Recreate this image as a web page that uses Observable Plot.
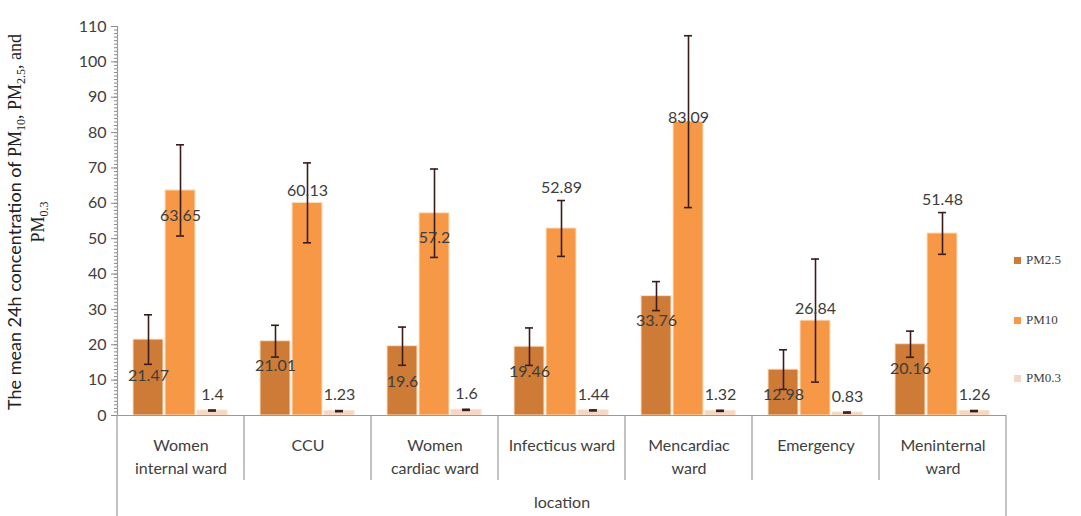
<!DOCTYPE html>
<html><head><meta charset="utf-8">
<script src="https://cdn.jsdelivr.net/npm/d3@7"></script>
<script src="https://cdn.jsdelivr.net/npm/@observablehq/plot@0.6"></script>
<style>
body{margin:0;background:#fff;}
#wrap{position:relative;width:1081px;height:516px;overflow:hidden;}
.lg{position:absolute;left:1014px;font-family:"Liberation Serif",serif;font-size:13px;color:#404040;display:flex;align-items:center;gap:5px;line-height:14px;}
.lg span.sw{display:inline-block;width:7px;height:7px;}
</style></head><body><div id="wrap"></div>
<script>
// ---- data ----
const locations = ["Women internal ward","CCU","Women cardiac ward","Infecticus ward","Mencardiac ward","Emergency","Meninternal ward"];
const locationLabels = ["Women\ninternal ward","CCU","Women\ncardiac ward","Infecticus ward","Mencardiac\nward","Emergency","Meninternal\nward"];
const series = ["PM2.5","PM10","PM0.3"];
const pm25 = [21.47,21.01,19.6,19.46,33.76,12.98,20.16];
const pm10 = [63.65,60.13,57.2,52.89,83.09,26.84,51.48];
const pm03 = [1.4,1.23,1.6,1.44,1.32,0.83,1.26];
const pm25Err = [7.0,4.5,5.4,5.3,4.1,5.6,3.7];
const pm10Err = [12.9,11.3,12.5,7.9,24.3,17.4,5.9];
const pm03Err = [0.15,0.15,0.15,0.15,0.15,0.15,0.15];
const yTicks = [0,10,20,30,40,50,60,70,80,90,100,110];
// label placement categories
const pm25Place = ["low","in","low","in","in","in","in"];
const pm10Place = ["in","out","in","err","edge","out","err"];
const pm03Place = ["tiny","tiny","tiny","tiny","tiny","tiny","tiny"];

const colors = ["#CD7B36","#F69845","#F6D6C6"];
const errColor = "#3a1c1c";

const rows = [];
locations.forEach((loc,i)=>{
  rows.push({location:loc, series:"PM2.5", value:pm25[i], err:pm25Err[i], place:pm25Place[i]});
  rows.push({location:loc, series:"PM10", value:pm10[i], err:pm10Err[i], place:pm10Place[i]});
  rows.push({location:loc, series:"PM0.3", value:pm03[i], err:pm03Err[i], place:pm03Place[i]});
});

const placeDy = {in:25, low:36, out:-12, edge:-4, err:-13, tiny:-16};
const labelMarks = Object.entries(placeDy).map(([p,dy]) =>
  Plot.text(rows.filter(d=>d.place===p), {
    fx:"location", x:"series",
    y: p==="err" ? (d=>d.value+d.err) : "value",
    text: d=>String(d.value), dy,
    fill:"#3d3d3d", fontSize:16
  })
);

const plot = Plot.plot({
  width:1081, height:516,
  marginLeft:116, marginRight:75, marginTop:26, marginBottom:101,
  style:{fontFamily:"Lato, 'Open Sans', sans-serif", fontSize:"16px", color:"#404040", background:"#fff", overflow:"visible"},
  fx:{domain:locations, padding:0, label:null},
  x:{domain:series, paddingInner:0.05, paddingOuter:0.47, axis:null},
  y:{domain:[0,110], label:null},
  color:{domain:series, range:colors},
  marks:[
    Plot.axisY(d3.range(0,111,1), {tickSize:3, tickFormat:()=>"", stroke:"#8a8a8a", label:null}),
    Plot.axisY(yTicks, {tickSize:6, tickPadding:5, stroke:"#8a8a8a", fontSize:16, label:null}),
    Plot.axisFx({anchor:"bottom", tickSize:0, tickPadding:20, fontSize:16, lineHeight:1.4,
      tickFormat:d=>locationLabels[locations.indexOf(d)],
      label:"location", labelAnchor:"center", labelOffset:92}),
    Plot.barY(rows, {fx:"location", x:"series", y:"value", fill:"series", stroke:"#fbe2c6", strokeWidth:1}),
    Plot.ruleX(rows, {fx:"location", x:"series", y1:d=>d.value-d.err, y2:d=>d.value+d.err, stroke:errColor, strokeWidth:1.6}),
    Plot.tickY(rows, {fx:"location", x:"series", y:d=>d.value+d.err, insetLeft:11, insetRight:11, stroke:errColor, strokeWidth:1.6}),
    Plot.tickY(rows, {fx:"location", x:"series", y:d=>d.value-d.err, insetLeft:11, insetRight:11, stroke:errColor, strokeWidth:1.6}),
    Plot.ruleY([0], {stroke:"#9a9a9a", strokeWidth:1.2}),
    Plot.frame({anchor:"left", facetAnchor:"left", stroke:"#9a9a9a", strokeWidth:1.2}),
    ...labelMarks
  ]
});

const wrap = document.getElementById("wrap");
wrap.appendChild(plot);

// category separators below the axis
const svg = d3.select(plot);
const fx = plot.scale("fx");
const y0 = plot.scale("y").apply(0);
const g = svg.append("g").attr("stroke","#9a9a9a").attr("stroke-width",1.2);
locations.forEach((loc,i)=>{
  const x = fx.apply(loc);
  g.append("line").attr("x1",x).attr("x2",x).attr("y1",y0).attr("y2", i===0 ? 516 : 480);
});
const xEnd = fx.apply(locations[locations.length-1]) + fx.bandwidth;
g.append("line").attr("x1",xEnd).attr("x2",xEnd).attr("y1",y0).attr("y2",516);

// y-axis title
const t = svg.append("g").attr("fill","#222").attr("font-size",18);
function line(x, parts){
  const tx = t.append("text").attr("transform",`translate(${x},222) rotate(-90)`).attr("text-anchor","middle");
  parts.forEach(([s,kind])=>{
    const sp = tx.append("tspan").text(s);
    if (kind==="sans") sp.attr("font-family","Lato, sans-serif");
    else sp.attr("font-family","'Liberation Serif', serif");
    if (kind==="sub") sp.attr("dy",4).attr("font-size",12);
    if (kind==="back") sp.attr("dy",-4);
  });
}
line(21, [["The mean 24h concentration of ","sans"],["PM","serif"],["10","sub"],[", PM","back"],["2.5","sub"],[", and","back"]]);
line(44, [["PM","serif"],["0.3","sub"]]);

// legend
const legendTops = [253,313,371];
series.forEach((s,i)=>{
  const d = document.createElement("div");
  d.className="lg"; d.style.top = legendTops[i]+"px";
  d.innerHTML = `<span class="sw" style="background:${colors[i]}"></span><span>${s}</span>`;
  wrap.appendChild(d);
});
</script>
</body></html>
